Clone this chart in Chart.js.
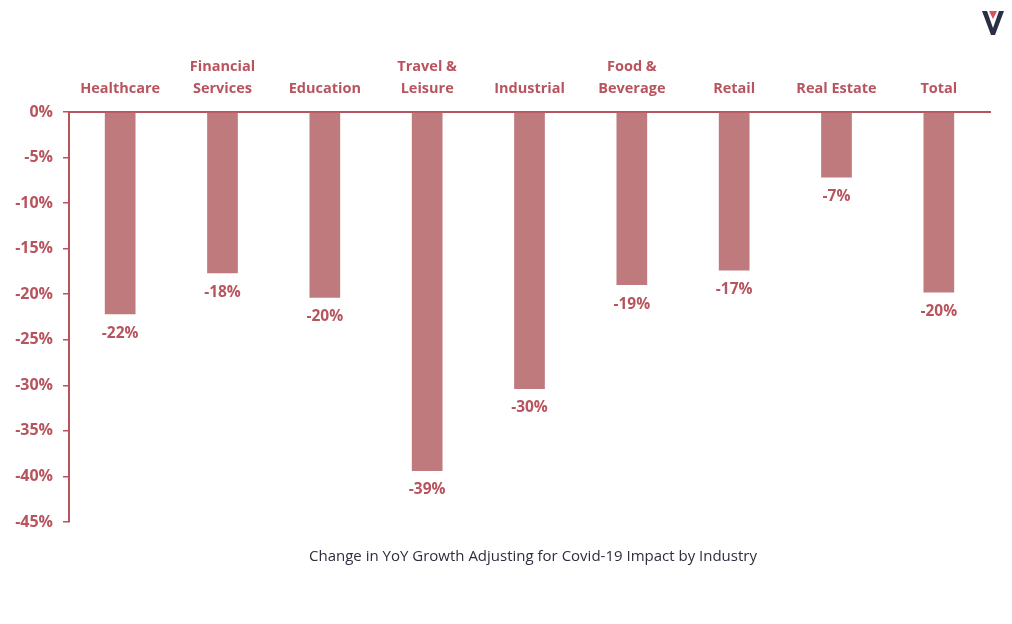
<!DOCTYPE html>
<html>
<head>
<meta charset="utf-8">
<script src="https://cdn.jsdelivr.net/npm/chart.js@4"></script>
<style>
  html, body { margin: 0; padding: 0; background: #fff; }
  #wrap { width: 1012px; height: 624px; position: relative; }
</style>
</head>
<body>
<div id="wrap"><canvas id="myChart"></canvas></div>
<script>
const industries = [
  "Healthcare", ["Financial", "Services"], "Education", ["Travel &", "Leisure"],
  "Industrial", ["Food &", "Beverage"], "Retail", "Real Estate", "Total"
];
const yoyChange = [-22.2, -17.7, -20.4, -39.4, -30.4, -19.0, -17.4, -7.2, -19.8];
const caption = "Change in YoY Growth Adjusting for Covid-19 Impact by Industry";

const red = "rgb(184,84,94)";
const barColor = "rgb(191,122,126)";
const labelFont = { family: "Open Sans", size: 14.5, weight: "bold", lineHeight: 1.52 };

// value labels under each bar, caption and the little logo
const extras = {
  id: "extras",
  afterDatasetsDraw(chart) {
    const { ctx } = chart;
    const meta = chart.getDatasetMeta(0);
    ctx.save();
    ctx.fillStyle = red;
    ctx.font = "bold 15.5px 'Open Sans'";
    ctx.textAlign = "center";
    ctx.textBaseline = "middle";
    meta.data.forEach((bar, i) => {
      ctx.fillText(Math.round(yoyChange[i]) + "%", bar.x, bar.y + 19);
    });

    ctx.fillStyle = "#2e2e3e";
    ctx.font = "15px 'Open Sans'";
    ctx.fillText(caption, 533, 557);

    // logo
    ctx.fillStyle = "#2b2f45";
    ctx.beginPath();
    ctx.moveTo(982, 11); ctx.lineTo(987, 11); ctx.lineTo(993, 28);
    ctx.lineTo(999, 11); ctx.lineTo(1004, 11); ctx.lineTo(995, 35);
    ctx.lineTo(991, 35); ctx.closePath(); ctx.fill();
    ctx.fillStyle = "#d9525a";
    ctx.beginPath();
    ctx.moveTo(989, 11); ctx.lineTo(997, 11); ctx.lineTo(993, 19);
    ctx.closePath(); ctx.fill();
    ctx.restore();
  }
};

new Chart(document.getElementById("myChart"), {
  type: "bar",
  data: {
    labels: industries,
    datasets: [{
      data: yoyChange,
      backgroundColor: barColor,
      borderWidth: 0,
      barPercentage: 0.6,
      categoryPercentage: 0.5
    }]
  },
  options: {
    responsive: true,
    maintainAspectRatio: false,
    animation: false,
    layout: { padding: { top: 0, right: 22, bottom: 102, left: 0 } },
    plugins: { legend: { display: false }, tooltip: { enabled: false } },
    scales: {
      x: {
        position: "top",
        grid: { display: false, drawTicks: false },
        border: { display: true, color: red, width: 2 },
        ticks: { color: red, font: labelFont, padding: 12, maxRotation: 0, autoSkip: false },
        afterFit: (scale) => { scale.height = 112; }
      },
      y: {
        min: -45,
        max: 0,
        grid: { drawOnChartArea: false, drawTicks: true, tickLength: 6, color: red, lineWidth: 1.5 },
        border: { display: true, color: red, width: 2 },
        ticks: {
          stepSize: 5,
          color: red,
          font: { family: "Open Sans", size: 16, weight: "bold" },
          padding: 10,
          callback: (v) => v + "%"
        },
        afterFit: (scale) => { scale.width = 69; }
      }
    }
  },
  plugins: [extras]
});
</script>
</body>
</html>
